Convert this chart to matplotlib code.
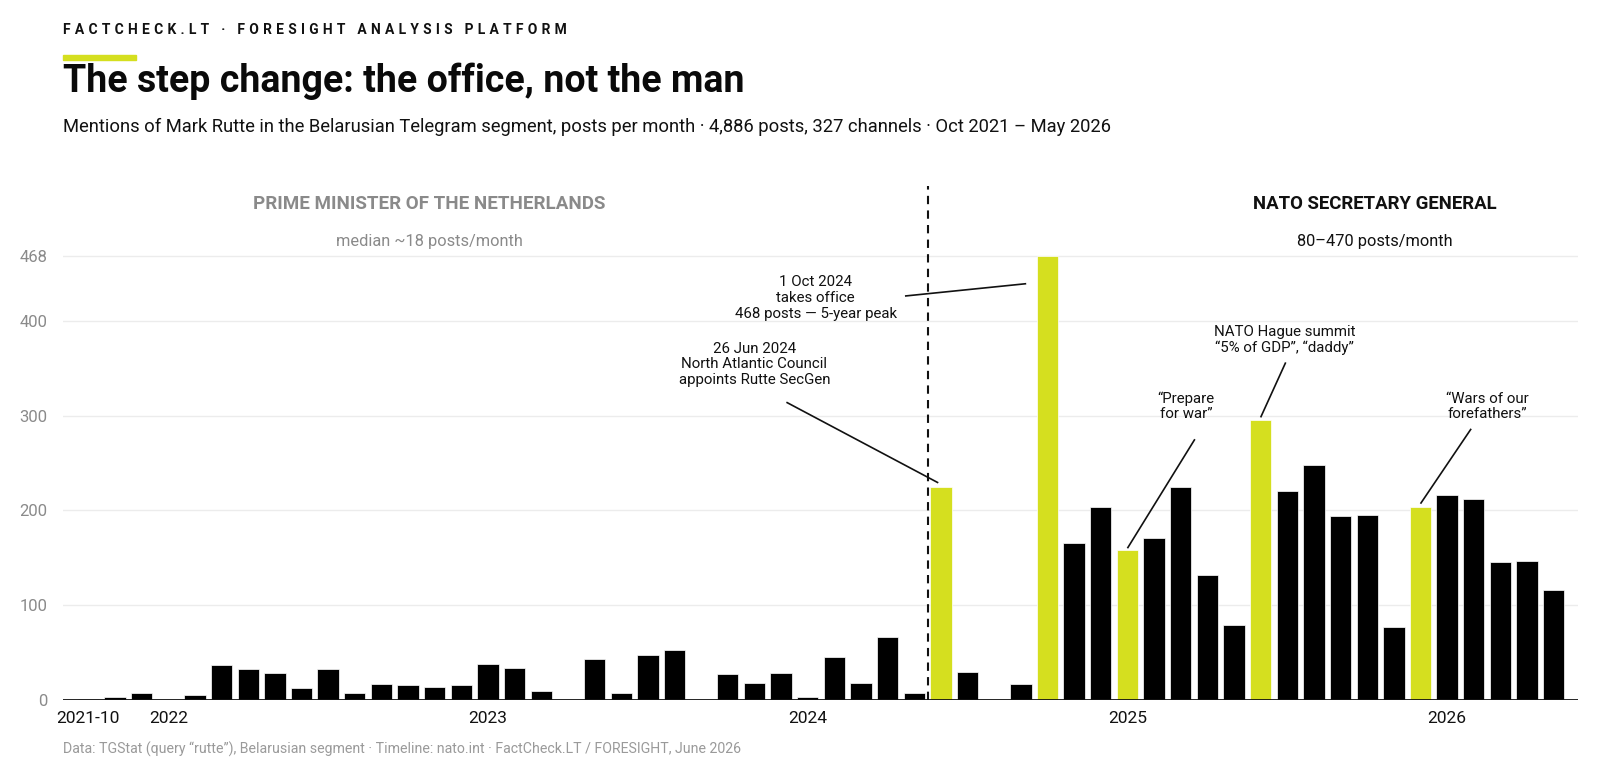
import matplotlib.pyplot as plt

# monthly posts, Oct 2021 .. May 2026
months = [f"{y}-{m:02d}" for y in range(2021, 2027) for m in range(1, 13)]
months = months[months.index("2021-10"):months.index("2026-05") + 1]
posts = [1, 3, 7, 0, 5, 37, 33, 28, 13, 33, 7, 17, 16, 14, 16,
         38, 34, 10, 0, 43, 7, 47, 53, 0, 27, 18, 28,
         3, 45, 18, 66, 7, 225, 30, 0, 17,
         468, 166, 203, 158, 171, 225, 132, 79, 295, 220, 248, 194, 195, 77,
         203, 216, 212, 146, 147, 116]
highlight = ["2024-06", "2024-10", "2025-01", "2025-06", "2025-12"]

tick_months = ["2021-10", "2022-01", "2023-01", "2024-01", "2025-01", "2026-01"]
tick_labels = ["2021-10", "2022", "2023", "2024", "2025", "2026"]
y_ticks = [0, 100, 200, 300, 400, 468]

YELLOW = "#d5df1f"
GRAY = "#8a8a8a"
FONT = "Roboto"

plt.rcParams["font.family"] = [FONT, "DejaVu Sans"]

fig = plt.figure(figsize=(16, 7.77), dpi=100)
ax = fig.add_axes([0.0394, 0.0991, 0.947, 0.6615])

x = list(range(len(months)))
colors = [YELLOW if m in highlight else "black" for m in months]
ax.bar(x, posts, width=0.8, color=colors, edgecolor="white", linewidth=0.5, zorder=3)

ax.set_xlim(-0.95, len(months) - 0.08)
ax.set_ylim(0, 542)
ax.set_yticks(y_ticks)
ax.set_yticklabels([str(t) for t in y_ticks], color=GRAY, fontsize=12)
ax.set_xticks([months.index(m) for m in tick_months])
ax.set_xticklabels(tick_labels, fontsize=12.5, color="#111")
ax.tick_params(axis="both", length=0)
ax.tick_params(axis="y", pad=11)
ax.tick_params(axis="x", pad=8)
for t in y_ticks[1:]:
    ax.axhline(t, color="#ececec", lw=1, zorder=1)
ax.axhline(0, color="#111", lw=2, zorder=4)
for s in ax.spines.values():
    s.set_visible(False)

# term boundary
split = months.index("2024-06") - 0.5
ax.axvline(split, color="#111", lw=1.5, ls=(0, (4, 3)), zorder=5)

# period labels
ax.text(12.8, 523, "PRIME MINISTER OF THE NETHERLANDS", ha="center", va="center",
        fontsize=13.5, fontweight="bold", color=GRAY)
ax.text(12.8, 484, "median ~18 posts/month", ha="center", va="center",
        fontsize=11.8, color=GRAY)
ax.text(48.3, 523, "NATO SECRETARY GENERAL", ha="center", va="center",
        fontsize=13.4, fontweight="bold", color="#111")
ax.text(48.3, 484, "80\u2013470 posts/month", ha="center", va="center",
        fontsize=11.8, color="#111")

# event annotations: text position, line start, line end at the bar top
def note(month, tx, ty, lx, ly, text, end_dx=0.0, end_dy=0.0):
    i = months.index(month)
    ax.text(tx, ty, text, ha="center", va="bottom", fontsize=10.8,
            color="#111", linespacing=1.15, zorder=6)
    ax.plot([lx, i + end_dx], [ly, posts[i] + end_dy], color="#111", lw=1.2,
            zorder=6, solid_capstyle="butt")

note("2024-06", 25.0, 330, 26.2, 314,
     "26 Jun 2024\nNorth Atlantic Council\nappoints Rutte SecGen", end_dx=-0.1, end_dy=4)
note("2024-10", 27.3, 400, 30.65, 426,
     "1 Oct 2024\ntakes office\n468 posts \u2014 5-year peak", end_dx=-0.8, end_dy=-29)
note("2025-01", 41.2, 294, 41.53, 275, "\u201cPrepare\nfor war\u201d", end_dy=2)
note("2025-06", 44.9, 364, 44.94, 356,
     "NATO Hague summit\n\u201c5% of GDP\u201d, \u201cdaddy\u201d", end_dy=3)
note("2025-12", 52.5, 294, 51.9, 286, "\u201cWars of our\nforefathers\u201d", end_dy=4)

# header
fig.text(0.0394, 0.962, "\u2009\u200a".join("FACTCHECK.LT \u00b7 FORESIGHT ANALYSIS PLATFORM"),
         fontsize=10, fontweight="bold", color="#111", va="center")
fig.patches.append(plt.Rectangle((0.0394, 0.923), 0.0457, 0.0065, color=YELLOW,
                                 transform=fig.transFigure, figure=fig))
fig.text(0.0394, 0.895, "The step change: the office, not the man",
         fontsize=27, fontweight="bold", color="#0a0a0a", va="center")
fig.text(0.0394, 0.836,
         "Mentions of Mark Rutte in the Belarusian Telegram segment, posts per month "
         "\u00b7 4,886 posts, 327 channels \u00b7 Oct 2021 \u2013 May 2026",
         fontsize=13.2, color="#111", va="center")
fig.text(0.0394, 0.036,
         "Data: TGStat (query \u201crutte\u201d), Belarusian segment \u00b7 Timeline: nato.int "
         "\u00b7 FactCheck.LT / FORESIGHT, June 2026",
         fontsize=10.2, color="#9a9a9a", va="center")

fig.savefig("out.png", dpi=100)
